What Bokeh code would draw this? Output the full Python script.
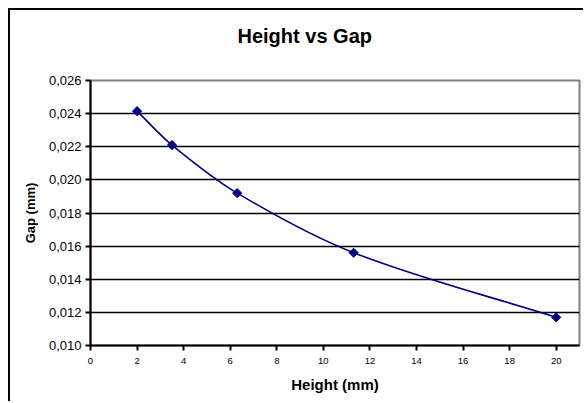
import numpy as np
from bokeh.plotting import figure
from bokeh.models import Range1d, FixedTicker, CustomJSTickFormatter, Title
from bokeh.embed import file_html
from bokeh.resources import INLINE

# Data
height_mm = [2.0, 3.5, 6.3, 11.3, 20.0]
gap_mm = [0.02415, 0.0221, 0.0192, 0.0156, 0.0117]
x_ticks = [0, 2, 4, 6, 8, 10, 12, 14, 16, 18, 20]
y_ticks = [0.010, 0.012, 0.014, 0.016, 0.018, 0.020, 0.022, 0.024, 0.026]

FONT = "Liberation Sans"

p = figure(width=575, height=393, output_backend="svg", toolbar_location=None,
           x_range=Range1d(0, 21), y_range=Range1d(0.010, 0.026),
           min_border_left=80, min_border_right=6, min_border_top=70, min_border_bottom=58)
p.title = None
p.styles = {"border-left": "2px solid #000000", "border-top": "2px solid #000000",
            "margin-left": "8px", "margin-top": "8px"}

# spacer nearest the frame, then the title above it
spacer = Title(text=" ", text_font=FONT, text_font_size="20px", standoff=10,
               text_color="white")
p.add_layout(spacer, "above")
title = Title(text="Height vs Gap", align="left", offset=147,
              text_font=FONT, text_font_size="20px", text_font_style="bold",
              text_color="#000000", standoff=0)
p.add_layout(title, "above")

p.background_fill_color = "white"
p.border_fill_color = "white"
p.outline_line_color = "#808080"
p.outline_line_width = 2

p.xgrid.grid_line_color = None
p.ygrid.grid_line_color = "#000000"
p.ygrid.grid_line_width = 1.5

p.xaxis.ticker = FixedTicker(ticks=x_ticks)
p.yaxis.ticker = FixedTicker(ticks=y_ticks)
p.yaxis.formatter = CustomJSTickFormatter(code="return tick.toFixed(3).replace('.', ',');")

for ax in (p.xaxis[0], p.yaxis[0]):
    ax.axis_line_color = "#000000"
    ax.axis_line_width = 2
    ax.major_tick_line_color = "#000000"
    ax.major_tick_line_width = 2
    ax.major_tick_out = 5
    ax.major_tick_in = 0
    ax.minor_tick_line_color = None
    ax.major_label_text_font = FONT
    ax.major_label_text_color = "#000000"
    ax.axis_label_text_font = FONT
    ax.axis_label_text_font_style = "bold"
    ax.axis_label_text_color = "#000000"

p.xaxis.axis_label = "Height (mm)"
p.xaxis.major_label_text_font_size = "9.5px"
p.xaxis.axis_label_text_font_size = "15px"
p.xaxis.major_label_standoff = 7
p.xaxis.axis_label_standoff = 9

p.yaxis.axis_label = "Gap (mm)"
p.yaxis.major_label_text_font_size = "13px"
p.yaxis.axis_label_text_font_size = "13px"
p.yaxis.major_label_standoff = 4
p.yaxis.axis_label_standoff = 8

# Smoothed line: cubic Bezier segments with tangents from neighbouring points
xs = np.array(height_mm)
ys = np.array(gap_mm)
n = len(xs)
h = np.diff(xs)
my = np.zeros(n)
for i in range(n):
    a = max(i - 1, 0)
    b = min(i + 1, n - 1)
    my[i] = (ys[b] - ys[a]) / (xs[b] - xs[a])
x0 = list(xs[:-1]); y0 = list(ys[:-1])
x1 = list(xs[1:]); y1 = list(ys[1:])
cx0 = list(xs[:-1] + h / 3.0)
cy0 = list(ys[:-1] + my[:-1] * h / 3.0)
cx1 = list(xs[1:] - h / 3.0)
cy1 = list(ys[1:] - my[1:] * h / 3.0)
p.bezier(x0=x0, y0=y0, x1=x1, y1=y1, cx0=cx0, cy0=cy0, cx1=cx1, cy1=cy1,
         line_color="#000080", line_width=1.6)

p.scatter(height_mm, gap_mm, marker="square", angle=np.pi / 4, size=6.5,
          fill_color="#000080", line_color="#000080")

open("out.html", "w").write(file_html(p, INLINE))
